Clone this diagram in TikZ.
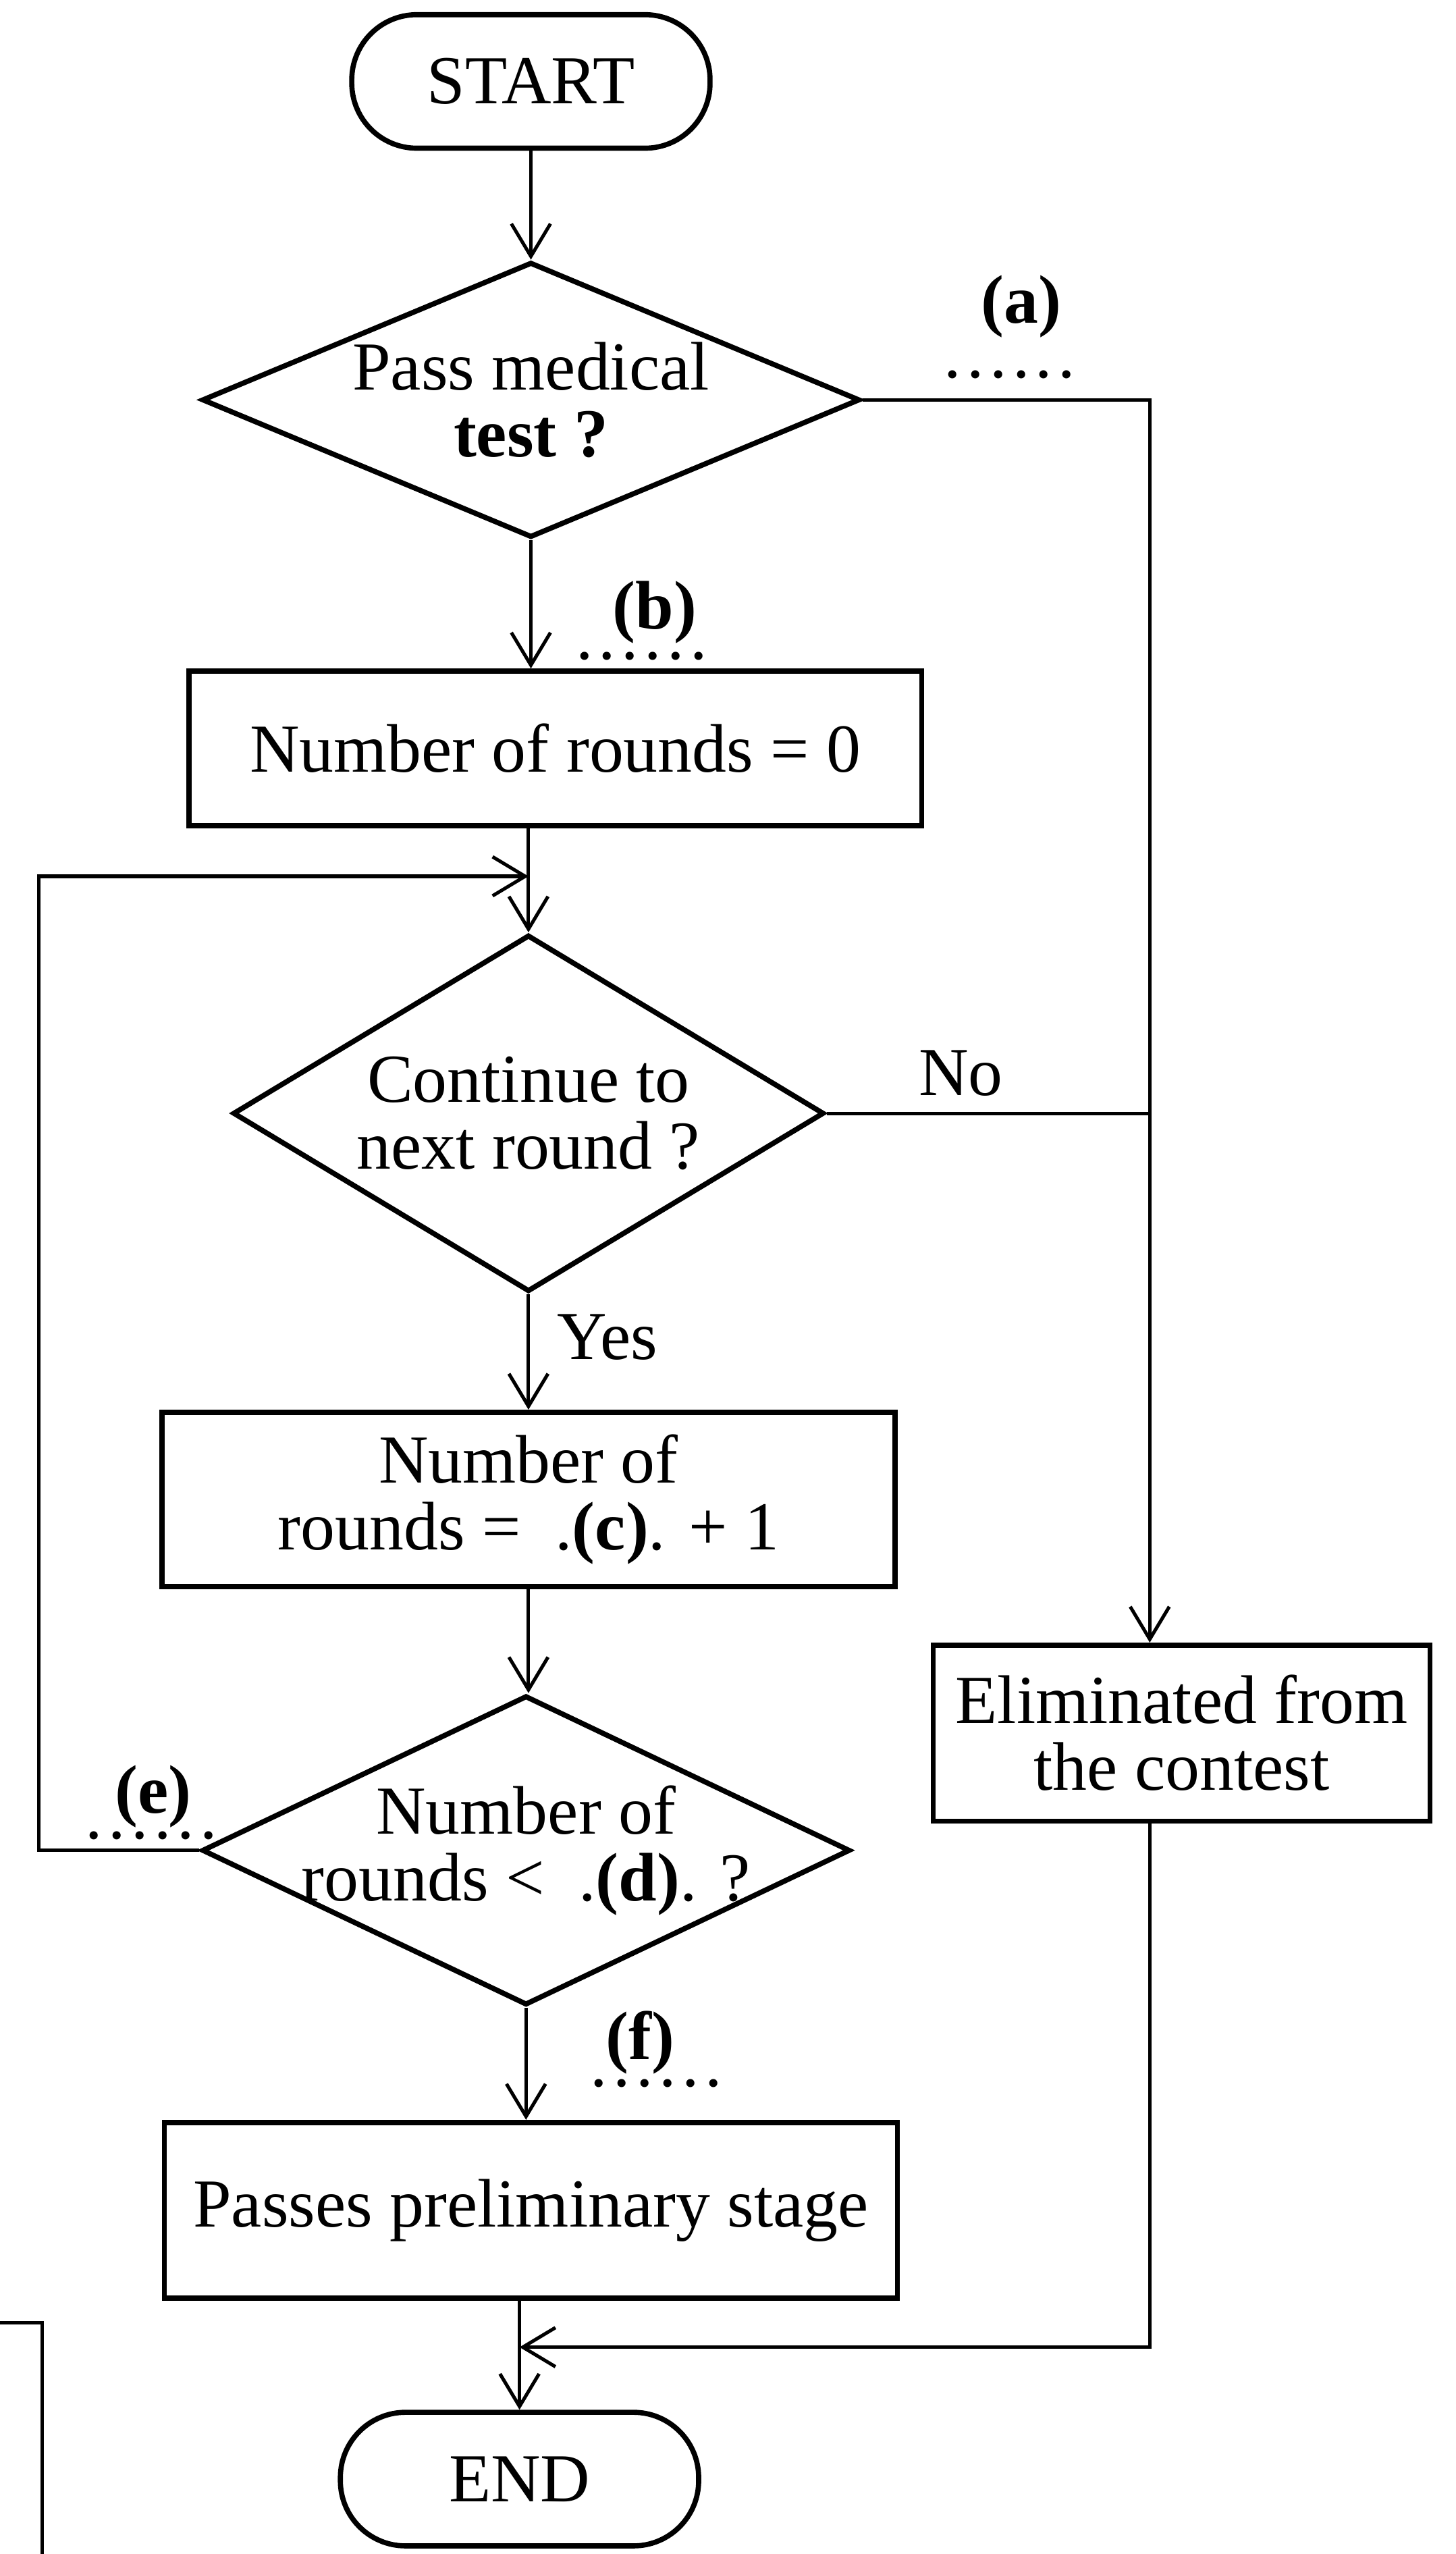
\documentclass[tikz,border=0pt]{standalone}
\usepackage{fontspec}
\setmainfont{Liberation Serif}
\usetikzlibrary{arrows.meta,shapes.geometric,positioning}
\newcommand{\gapdots}{.\kern1pt.\kern1pt.\kern1pt.\kern1pt.\kern1pt.}

\begin{document}
\begin{tikzpicture}[line width=0.6pt, font=\fontsize{12}{11.7}\selectfont,
    >={Straight Barb[length=2mm,width=2.4mm]},
    terminal/.style={draw, line width=0.9pt, rectangle, rounded corners=0.4cm,
      minimum width=2.2cm, minimum height=0.82cm},
    process/.style={draw, line width=0.9pt, rectangle, align=center,
      minimum width=4.5cm, minimum height=#1},
    process/.default=1.07cm,
    decision/.style 2 args={draw, diamond, line width=0.9pt, inner sep=0pt,
      minimum width=#1, minimum height=#2},
    blank/.style={font=\fontsize{12}{11.7}\selectfont\bfseries, inner sep=0pt},
    gap/.style={inner sep=0pt}]
  \useasboundingbox (0,0) rectangle (8.94,-15.68);

  \node[terminal] (start) at (3.26,-0.50) {START};
  \node[decision={4.04cm}{1.69cm}] (medical) at (3.26,-2.455) {};
  \node[align=center] (medicaltxt) at (medical) {Pass medical\\\textbf{test ?}};
  \node[process=0.95cm] (zero) at (3.41,-4.595) {Number of rounds = 0};
  \node[decision={3.63cm}{2.19cm}] (cont) at (3.245,-6.835) {};
  \node[align=center] (conttxt) at (cont) {Continue to\\next round ?};
  \node[process] (incr) at (3.245,-9.205) {Number of\\rounds =\ \ .\textbf{(c)}. + 1};
  \node[decision={3.98cm}{1.90cm}] (less) at (3.23,-11.36) {};
  \node[align=center] (lesstxt) at (less) {Number of\\rounds <\ \ .\textbf{(d)}. ?};
  \node[process=1.08cm] (passes) at (3.26,-13.57) {Passes preliminary stage};
  \node[terminal] (finish) at (3.19,-15.22) {END};
  \node[process=1.08cm, minimum width=3.05cm] (elim) at (7.255,-10.64) {Eliminated from\\the contest};

  \node[blank] (a) at (6.27,-1.88) {(a)};
  \node[gap] (adots) at (6.20,-2.30) {\gapdots};
  \node[blank] (b) at (4.02,-3.76) {(b)};
  \node[gap] (bdots) at (3.94,-4.03) {\gapdots};
  \node[blank] (e) at (0.94,-11.03) {(e)};
  \node[gap] (edots) at (0.93,-11.27) {\gapdots};
  \node[blank] (f) at (3.93,-12.54) {(f)};
  \node[gap] (fdots) at (4.03,-12.79) {\gapdots};
  \node (no) at (5.90,-6.59) {No};
  \node (yes) at (3.73,-8.21) {Yes};

  \coordinate (back) at (0.24,-5.38);
  \coordinate (join) at (3.245,-5.38);
  \coordinate (rail) at (7.06,-2.48);
  \coordinate (merge) at (3.19,-14.41);

  \draw[->] (start) -- (medical);
  \draw[->] (medical.south) -- (medical.south |- zero.north);
  \draw[->] (cont.north |- zero.south) -- (cont.north);
  \draw[->] (less.west) -| (back) -- (join);
  \draw[->] (cont.south) -- (cont.south |- incr.north);
  \draw[->] (incr.south) -- (incr.south |- less.north);
  \draw[->] (less.south) -- (less.south |- passes.north);
  \draw[->] (medical.east) -| (rail |- elim.north);
  \draw (cont.east) -- (cont.east -| rail);
  \draw[->] (rail |- elim.south) |- (merge);
  \draw[->] (passes.south -| merge) -- (finish.north -| merge);

  \draw (0,-14.26) -| (0.26,-15.68);
\end{tikzpicture}
\end{document}
